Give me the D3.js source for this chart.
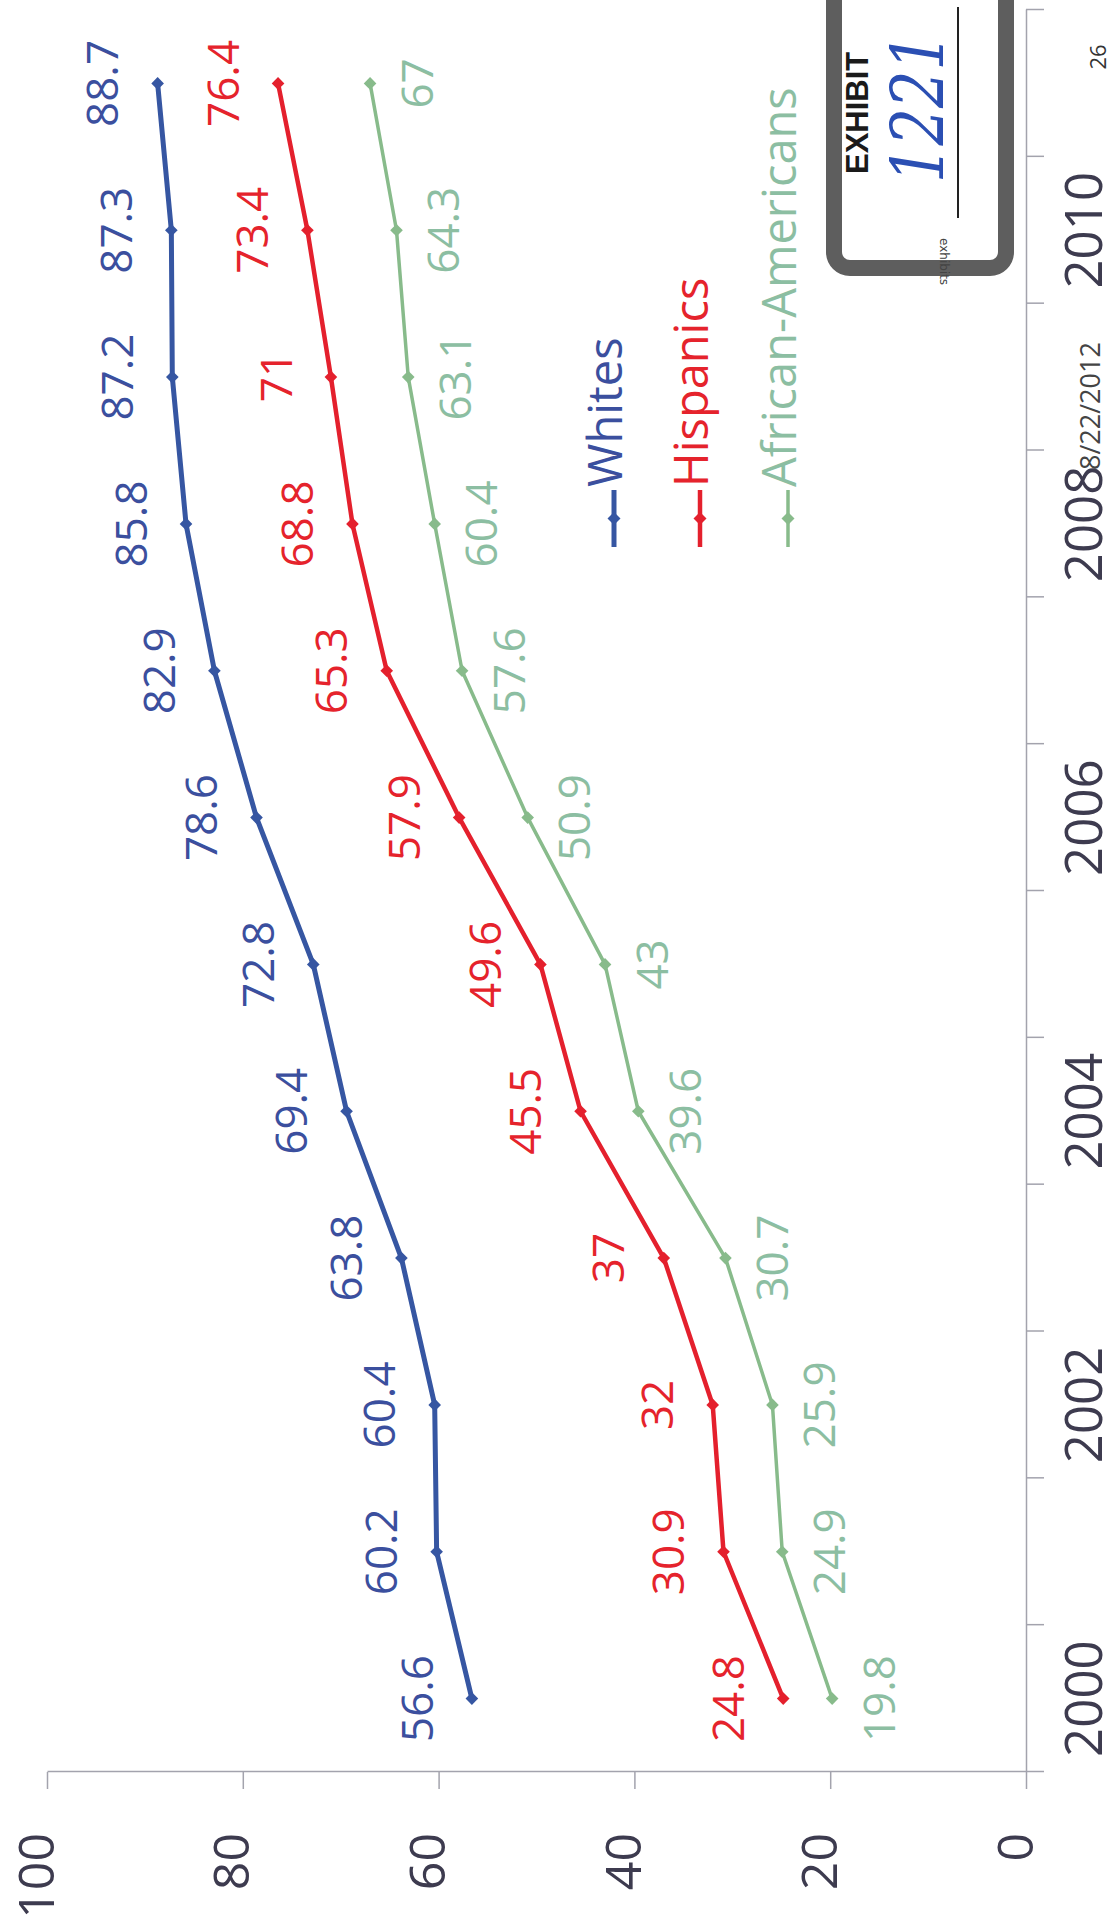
<!DOCTYPE html>
<html>
<head>
<meta charset="utf-8">
<script src="https://cdn.jsdelivr.net/npm/d3@7"></script>
<style>
  body { margin: 0; background: white; }
  svg { display: block; }
</style>
</head>
<body>
<div id="chart-area"></div>
<script>
// data
var years = [2000, 2001, 2002, 2003, 2004, 2005, 2006, 2007, 2008, 2009, 2010, 2011];
var whites = [56.6, 60.2, 60.4, 63.8, 69.4, 72.8, 78.6, 82.9, 85.8, 87.2, 87.3, 88.7];
var hispanics = [24.8, 30.9, 32, 37, 45.5, 49.6, 57.9, 65.3, 68.8, 71, 73.4, 76.4];
var africanAmericans = [19.8, 24.9, 25.9, 30.7, 39.6, 43, 50.9, 57.6, 60.4, 63.1, 64.3, 67];
var seriesNames = ["Whites", "Hispanics", "African-Americans"];
var yearLabels = [2000, 2002, 2004, 2006, 2008, 2010];
var valueTicks = [0, 20, 40, 60, 80, 100];

var W = 1116, H = 1925;

var svg = d3.select("#chart-area").append("svg")
  .attr("width", W)
  .attr("height", H)
  .style("background-color", "white");

// the page is a scan of a chart turned on its side: draw it upright, then rotate
var g = svg.append("g")
  .attr("transform", "translate(0," + H + ") rotate(-90)");

var x = d3.scaleBand()
  .domain(years)
  .range([153, 1915])
  .paddingInner(0)
  .paddingOuter(0);

var y = d3.scaleLinear()
  .domain([0, 100])
  .range([1026, 47]);

var series = [
  {name: seriesNames[0], values: whites, color: "#3656a2", text: "#3b4f9e", width: 5, above: true},
  {name: seriesNames[1], values: hispanics, color: "#e4202d", text: "#e5232c", width: 4.5, above: true},
  {name: seriesNames[2], values: africanAmericans, color: "#88bb8b", text: "#8cbea2", width: 3.5, above: false}
];

var axisColor = "#a3a3ad";
var labelColor = "#3d3b4f";

// value axis (left in the upright chart)
var leftAxis = d3.axisLeft(y)
  .tickValues(valueTicks)
  .tickSize(17)
  .tickSizeOuter(0)
  .tickPadding(44);
var ga = g.append("g")
  .attr("class", "left axis")
  .attr("transform", "translate(153,0)")
  .call(leftAxis);
ga.selectAll("path, line").attr("stroke", axisColor).attr("stroke-width", 1.5);
ga.selectAll("text")
  .attr("dy", "0.12em")
  .attr("font-family", "'Open Sans', sans-serif")
  .attr("font-size", 50)
  .attr("fill", labelColor);

// category axis: tick marks between the years
var edges = d3.scaleLinear().domain([0, years.length]).range(x.range());
var tickAxis = d3.axisBottom(edges)
  .tickValues(d3.range(years.length + 1))
  .tickFormat("")
  .tickSize(18)
  .tickSizeOuter(0);
var gt = g.append("g")
  .attr("class", "bottom axis")
  .attr("transform", "translate(0," + y(0) + ")")
  .call(tickAxis);
gt.selectAll("path, line").attr("stroke", axisColor).attr("stroke-width", 1.5);

// year labels every second year
var labelAxis = d3.axisBottom(x)
  .tickValues(yearLabels)
  .tickSize(0)
  .tickPadding(76);
var gl = g.append("g")
  .attr("transform", "translate(0," + y(0) + ")")
  .call(labelAxis);
gl.select(".domain").remove();
gl.selectAll("text")
  .attr("dy", 0)
  .attr("font-family", "'Open Sans', sans-serif")
  .attr("font-size", 51)
  .attr("fill", labelColor);

var line = d3.line()
  .x(function(d, i) { return x(years[i]) + x.bandwidth() / 2; })
  .y(function(d) { return y(d); });

var diamond = d3.symbol().type(d3.symbolSquare).size(80);

series.forEach(function(s) {
  var sg = g.append("g");
  sg.append("path")
    .attr("d", line(s.values))
    .attr("fill", "none")
    .attr("stroke", s.color)
    .attr("stroke-width", s.width)
    .attr("stroke-linejoin", "round");

  sg.selectAll("path.marker").data(s.values).enter()
    .append("path")
    .attr("class", "marker")
    .attr("d", diamond)
    .attr("fill", s.color)
    .attr("transform", function(d, i) {
      return "translate(" + (x(years[i]) + x.bandwidth() / 2) + "," + y(d) + ") rotate(45)";
    });

  sg.selectAll("text").data(s.values).enter()
    .append("text")
    .attr("x", function(d, i) { return x(years[i]) + x.bandwidth() / 2; })
    .attr("y", function(d) { return (s.above ? y(d) - 55 : y(d) + 47) + 15.7; })
    .attr("text-anchor", "middle")
    .attr("font-family", "'Open Sans', sans-serif")
    .attr("font-size", 44)
    .attr("fill", s.text)
    .text(function(d) { return String(d); });
});

// legend
var legendRows = [622, 708, 796];
series.forEach(function(s, i) {
  var lg = g.append("g").attr("transform", "translate(1378," + legendRows[i] + ")");
  lg.append("line")
    .attr("x1", 0).attr("x2", 57)
    .attr("y1", -8).attr("y2", -8)
    .attr("stroke", s.color)
    .attr("stroke-width", s.width);
  lg.append("path")
    .attr("d", d3.symbol().type(d3.symbolSquare).size(85))
    .attr("fill", s.color)
    .attr("transform", "translate(28.5,-8) rotate(45)");
  lg.append("text")
    .attr("x", 60)
    .attr("y", 0)
    .attr("font-family", "'Open Sans', sans-serif")
    .attr("font-size", 47)
    .attr("fill", s.text)
    .text(s.name);
});

// exhibit sticker and stamps from the scan
g.append("rect")
  .attr("x", 1657).attr("y", 834)
  .attr("width", 320).attr("height", 172)
  .attr("rx", 16)
  .attr("fill", "white")
  .attr("stroke", "#5e5e5e")
  .attr("stroke-width", 16);

g.append("text")
  .attr("x", 1751).attr("y", 868)
  .attr("font-family", "'Liberation Sans', sans-serif")
  .attr("font-weight", "bold")
  .attr("font-size", 31)
  .attr("fill", "#1a1a1a")
  .text("EXHIBIT");

g.append("text")
  .attr("x", 1742).attr("y", 944)
  .attr("textLength", 150)
  .attr("lengthAdjust", "spacingAndGlyphs")
  .attr("font-family", "'DejaVu Serif', serif")
  .attr("font-style", "italic")
  .attr("font-size", 72)
  .attr("fill", "#2b4fb3")
  .text("1221");

g.append("line")
  .attr("x1", 1707).attr("x2", 1918)
  .attr("y1", 958).attr("y2", 958)
  .attr("stroke", "#222")
  .attr("stroke-width", 2);

g.append("text")
  .attr("transform", "translate(1687,940) rotate(180)")
  .attr("font-family", "'DejaVu Sans', sans-serif")
  .attr("font-size", 12)
  .attr("fill", "#444")
  .text("exhibits");

g.append("text")
  .attr("x", 1868).attr("y", 1106)
  .attr("text-anchor", "middle")
  .attr("font-family", "'Open Sans', sans-serif")
  .attr("font-size", 22)
  .attr("fill", "#333")
  .text("26");

g.append("text")
  .attr("x", 1455).attr("y", 1100)
  .attr("font-family", "'Open Sans', sans-serif")
  .attr("font-size", 27)
  .attr("fill", "#444")
  .text("8/22/2012");
</script>
</body>
</html>
